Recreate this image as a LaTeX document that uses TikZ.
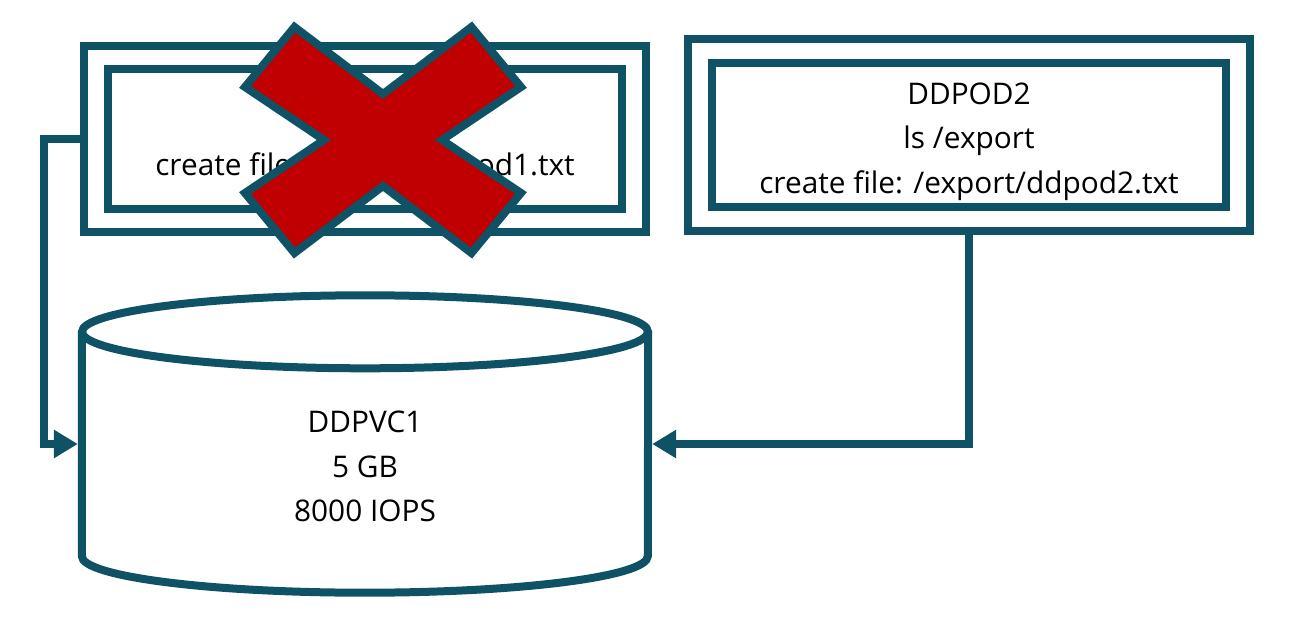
\documentclass[tikz,border=0pt]{standalone}
\usepackage{fontspec}
\setmainfont{Open Sans}
\usetikzlibrary{arrows.meta}
\definecolor{hpeteal}{RGB}{15,82,101}
\definecolor{stopred}{RGB}{192,0,0}
\begin{document}
\begin{tikzpicture}[x=1pt,y=-1pt,
        podframe/.style={draw=hpeteal,line width=8pt,inner sep=0pt},
        podtext/.style={font=\fontsize{29.8}{44.5}\selectfont,align=center,inner sep=0pt},
        link/.style={draw=hpeteal,line width=8pt,line join=miter,-{Triangle[length=24pt,width=27pt]},shorten >=4pt}]
    \useasboundingbox (0,0) rectangle (1294,626);
    % first pod (stopped)
    \node[podframe,minimum width=562pt,minimum height=186pt] (pod1out) at (365,139) {};
    \node[podframe,minimum width=514pt,minimum height=139pt] (pod1in) at (365,139) {};
    \node[podtext] (pod1txt) at ([yshift=-28.5pt]pod1in.center) {create file: /export/ddpod1.txt};
    % second pod
    \node[podframe,minimum width=562pt,minimum height=192pt] (pod2out) at (969,135) {};
    \node[podframe,minimum width=514pt,minimum height=144pt] (pod2in) at (969,135) {};
    \node[podtext] (pod2txt) at ([yshift=-6.5pt]pod2in.center) {DDPOD2\\ls /export\\create file: /export/ddpod2.txt};
    % volume
    \node[minimum width=566pt,minimum height=224pt,inner sep=0pt] (pvc) at (365,444) {};
    \draw[hpeteal,line width=8pt] (pvc.north west) -- (pvc.south west) arc[start angle=180,end angle=0,x radius=283,y radius=36.5] -- (pvc.north east);
    \draw[hpeteal,line width=8pt] (pvc.north) ellipse[x radius=283,y radius=36.5];
    \node[podtext] (pvctxt) at ([yshift=-22.4pt]pvc.center) {DDPVC1\\5 GB\\8000 IOPS};
    % mounts
    \draw[link] (pod1out.west) -- ++(-36,0) |- (pvc.west);
    \draw[link] (pod2out.south) |- (pvc.east);
    % cross over the first pod
    \draw[hpeteal,fill=stopred,line width=8pt,line join=miter] (294.5,27) -- (383,94) -- (471.5,27) -- (521,87) -- (442,140) -- (521,193) -- (471.5,253) -- (383,186) -- (294.5,253) -- (245,193) -- (324,140) -- (245,87) -- cycle;
\end{tikzpicture}
\end{document}
